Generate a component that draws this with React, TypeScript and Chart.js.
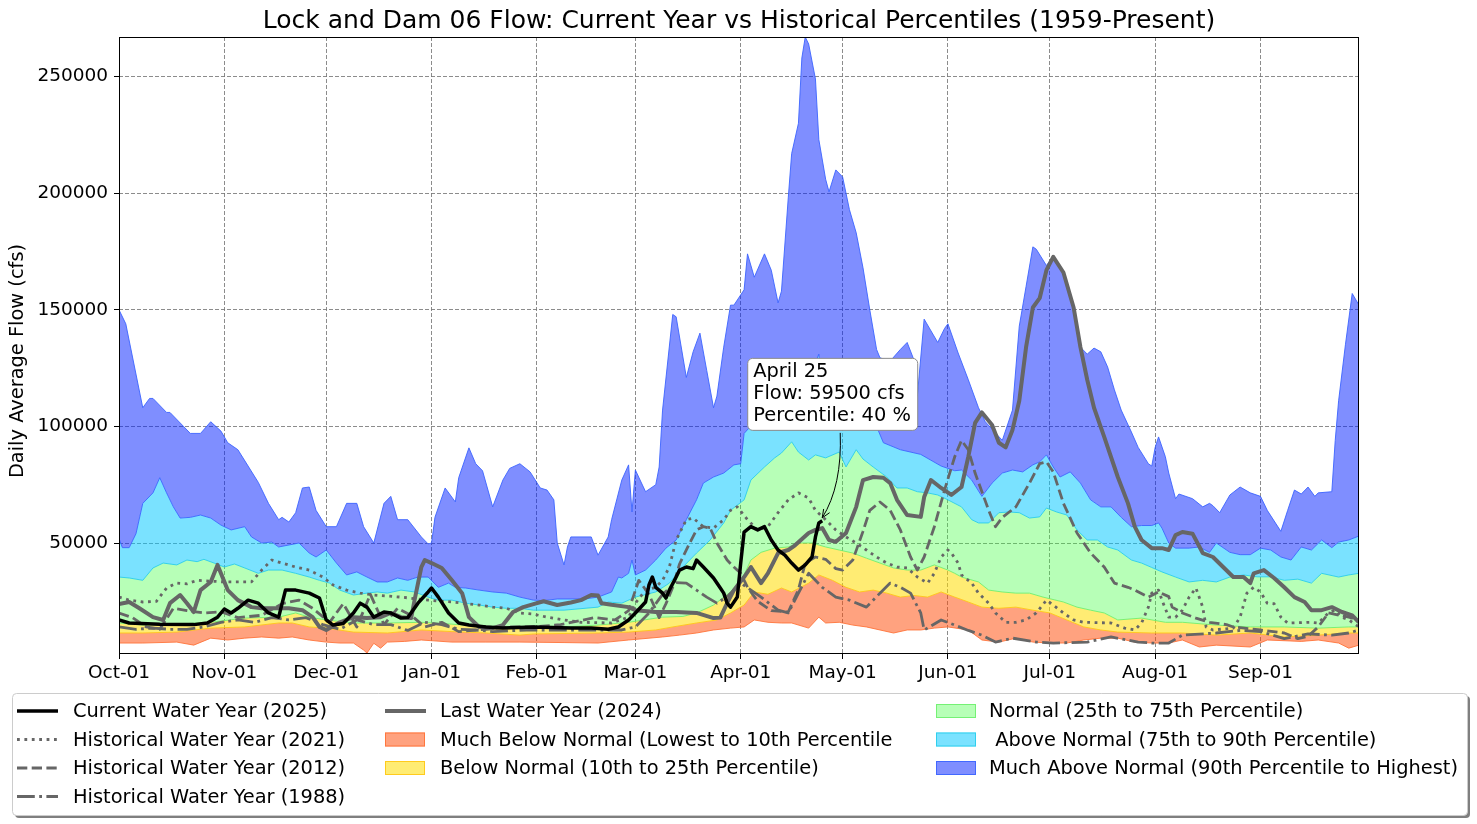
import React, { useEffect, useRef } from "react";
import { Chart, registerables } from "chart.js";

Chart.register(...registerables);

type Pt = [number, number];

const chartTitle = "Lock and Dam 06 Flow: Current Year vs Historical Percentiles (1959-Present)";
const yAxisTitle = "Daily Average Flow (cfs)";

// x = day of water year (Oct-01 = 0)
const monthTickDays = [0, 31, 61, 92, 123, 152, 183, 213, 244, 274, 305, 336];
const monthTickLabels = ["Oct-01", "Nov-01", "Dec-01", "Jan-01", "Feb-01", "Mar-01", "Apr-01", "May-01", "Jun-01", "Jul-01", "Aug-01", "Sep-01"];
const yTickValues = [50000, 100000, 150000, 200000, 250000];

const minFlow: Pt[] = [[0,7100],[7,7100],[17,7500],[22,6200],[27,9200],[32,8400],[37,9200],[42,9700],[47,9200],[51,9700],[56,8400],[61,7500],[65,7100],[69,7100],[72,4100],[73,2800],[75,7000],[77,4900],[79,7500],[84,7800],[89,8400],[98,7500],[108,7500],[118,7500],[131,7300],[141,7100],[150,8400],[160,9700],[165,10500],[170,11400],[175,12700],[180,13500],[184,14000],[187,17000],[191,16000],[195,15700],[198,15700],[203,13500],[206,18200],[208,15700],[212,16000],[216,14800],[220,14000],[224,12700],[228,11400],[232,12700],[236,12700],[240,13500],[244,14000],[250,12700],[254,8400],[259,7500],[264,9200],[269,7500],[274,7100],[279,7100],[284,8400],[289,9200],[294,9200],[299,7500],[304,7100],[309,7100],[313,8400],[318,5400],[323,6200],[333,5400],[338,8400],[348,7800],[353,8400],[359,7100],[362,4900],[365,6200]];

const p10Flow: Pt[] = [[0,11400],[7,11400],[17,11800],[27,13500],[37,14000],[47,15700],[51,15700],[56,14000],[61,13500],[69,11800],[79,11400],[89,12700],[98,12000],[108,11400],[118,10500],[122,11000],[141,11400],[150,11800],[158,12700],[163,14000],[170,15700],[176,17000],[180,20000],[184,23400],[187,29000],[191,28000],[195,30700],[198,29000],[203,32800],[206,36300],[210,34000],[214,31000],[218,29000],[222,29800],[226,28500],[230,26800],[234,27500],[238,26800],[242,29000],[246,26800],[250,24700],[254,22500],[259,22000],[264,22500],[269,21200],[274,20000],[279,17000],[284,14000],[289,12700],[294,11800],[304,11400],[313,11400],[323,10500],[333,11400],[343,9700],[353,10500],[362,11400],[365,11400]];

const p25Flow: Pt[] = [[0,15700],[7,14800],[17,15200],[27,16000],[37,17800],[47,18200],[52,20000],[56,18200],[61,17000],[69,15700],[79,15700],[89,16000],[98,15200],[108,14000],[122,14000],[131,14000],[141,14800],[150,16000],[160,18200],[166,18500],[170,20000],[175,23400],[180,29000],[183,33300],[186,42700],[189,46000],[193,47800],[197,48300],[200,50000],[204,50000],[208,48300],[212,47000],[216,45700],[220,43500],[224,41400],[228,39300],[232,38400],[236,38400],[240,40600],[244,38400],[246,37000],[248,35400],[253,33300],[256,29800],[260,29000],[264,28500],[268,28500],[272,26800],[278,24700],[282,22500],[286,21200],[290,20000],[294,17000],[301,17800],[308,16000],[313,16000],[323,14800],[333,14000],[343,14000],[353,13500],[362,14000],[365,14000]];

const p75Flow: Pt[] = [[0,35400],[3,35000],[7,34000],[10,39300],[13,41400],[17,40600],[20,42700],[23,42000],[25,43000],[28,41400],[31,39700],[34,41000],[37,39300],[41,37000],[44,38400],[48,38400],[52,37000],[56,35400],[59,34000],[62,32800],[65,29800],[69,27700],[73,28500],[76,29000],[79,28500],[83,29800],[87,29000],[91,26800],[94,25500],[98,25500],[102,24200],[106,23400],[110,22500],[114,22000],[118,22000],[122,21200],[131,21200],[141,22500],[144,24700],[148,24200],[152,26800],[158,29000],[162,32800],[166,39700],[170,45700],[174,51300],[178,58600],[180,64000],[184,68500],[186,77000],[190,82600],[193,86500],[195,88600],[198,93400],[200,89000],[203,85600],[205,87800],[208,86500],[212,89000],[214,82600],[217,90000],[219,86000],[222,82600],[226,78300],[229,73600],[232,73600],[235,72000],[238,71500],[241,70600],[244,68500],[248,65500],[251,60000],[253,58600],[256,58600],[259,63000],[262,63300],[265,63000],[268,60700],[271,61200],[273,65000],[276,63300],[279,62000],[282,55600],[285,51300],[288,51300],[291,48300],[294,47000],[298,42700],[301,41400],[304,39500],[307,37600],[311,35400],[315,33300],[319,34000],[323,33300],[327,35400],[331,36300],[335,35500],[339,35500],[343,34000],[347,34500],[351,32800],[354,37000],[359,35400],[362,36300],[365,37000]];

const p90Flow: Pt[] = [[0,52000],[1,48000],[3,48000],[5,54000],[7,67000],[10,71500],[12,78000],[14,71500],[16,65500],[18,60700],[21,61000],[24,62000],[27,60700],[30,57700],[33,55600],[37,57000],[39,52600],[42,50000],[45,50400],[47,48300],[53,50000],[56,45700],[58,44000],[61,47000],[64,41400],[67,36300],[70,37600],[73,35400],[76,33300],[79,33300],[82,35000],[85,34000],[88,35400],[91,35400],[94,31000],[97,32800],[99,31000],[102,30700],[106,29800],[110,29000],[114,28500],[118,26800],[122,25500],[125,25300],[129,26000],[137,26000],[141,26800],[145,29000],[147,35400],[148,35000],[150,37000],[151,42700],[152,36300],[155,38400],[158,42700],[161,47800],[164,51300],[167,60000],[170,68500],[172,75700],[175,78300],[178,80000],[181,83500],[183,84000],[184,97000],[189,105000],[193,110000],[199,115000],[203,120000],[206,131000],[207,118000],[212,112000],[218,105000],[223,100000],[225,93000],[230,90000],[236,88000],[242,83000],[246,81000],[248,81300],[251,77000],[254,70000],[257,75700],[260,80000],[263,81300],[266,80500],[269,83500],[271,84800],[273,87800],[275,82600],[277,78300],[280,80500],[283,75700],[286,68500],[289,65500],[292,65500],[295,61000],[298,57000],[301,57500],[304,57500],[306,58600],[307,56400],[309,50000],[311,47800],[315,47800],[318,48300],[321,46000],[323,50000],[327,46000],[330,45000],[333,45000],[336,47800],[339,47000],[342,44000],[345,42700],[348,48300],[351,47000],[354,51300],[357,48000],[359,50400],[362,51300],[365,53000]];

const maxFlow: Pt[] = [[0,150000],[2,144000],[7,108000],[9,112000],[10,112000],[14,106000],[15,106000],[21,97000],[24,97000],[27,102000],[30,98000],[32,93000],[35,90000],[38,83000],[41,76000],[44,67000],[47,60000],[48,61000],[50,59000],[52,63000],[54,73600],[56,74000],[58,64000],[61,57000],[64,57000],[67,67000],[70,67000],[72,57000],[75,50000],[78,67000],[80,70000],[82,60000],[85,60000],[89,52600],[91,49600],[92,50000],[93,61000],[96,73600],[99,67600],[100,78000],[103,90800],[105,84000],[107,81000],[110,65500],[113,77000],[115,82000],[118,84000],[121,80500],[124,73600],[126,72700],[128,68500],[129,50000],[131,40600],[132,48300],[133,52600],[139,52600],[141,44800],[144,52600],[145,60000],[148,77000],[150,83500],[151,63300],[152,81300],[155,72000],[158,75000],[159,82600],[160,107000],[163,148000],[164,147000],[167,121000],[169,132000],[171,140000],[173,124000],[175,108000],[176,113000],[178,134000],[180,152000],[181,152000],[184,158600],[185,174000],[187,164000],[190,174000],[192,167000],[194,153000],[195,158000],[197,198000],[198,217000],[200,230000],[201,258000],[202,267000],[203,264000],[205,249000],[206,223000],[208,206000],[209,200600],[211,210000],[213,207000],[215,193000],[217,183000],[219,168000],[221,150000],[223,133000],[224,129400],[227,128000],[230,133000],[232,136000],[234,128500],[235,113000],[237,146000],[241,136000],[243,142000],[244,144000],[247,131500],[250,120000],[253,108000],[255,102000],[260,94000],[263,107000],[265,143000],[267,160000],[269,177000],[270,176000],[273,169000],[275,173000],[278,166000],[281,151000],[283,134000],[285,131000],[287,133600],[289,132000],[291,125500],[293,115700],[295,107000],[298,97600],[300,91000],[303,84000],[304,83000],[305,91000],[306,95500],[308,87000],[309,80000],[311,69000],[312,71000],[316,69000],[319,65500],[321,67000],[322,66000],[324,63000],[327,70600],[330,74000],[333,71500],[336,70000],[338,64000],[342,55000],[344,64000],[346,72700],[348,71000],[350,74000],[352,70000],[353,71500],[357,72000],[358,94000],[359,111000],[361,135000],[363,157000],[365,152000]];

const current2025: Pt[] = [[0,17000],[3,15700],[12,15200],[22,15000],[26,15700],[29,18200],[31,21700],[33,20000],[35,22000],[38,25500],[41,24200],[44,20000],[47,18200],[49,29800],[52,29800],[56,28500],[59,26400],[61,17000],[63,14800],[66,15500],[69,20000],[71,24200],[73,22500],[75,18200],[78,20400],[80,20000],[83,17800],[85,18000],[88,24200],[91,29000],[92,30700],[94,26800],[97,20000],[100,15700],[103,14800],[108,14000],[113,13500],[122,14000],[133,13500],[139,13500],[144,13000],[147,14000],[150,17000],[152,20000],[155,24700],[156,32000],[157,35400],[158,31000],[160,28500],[161,26400],[162,29800],[164,35400],[165,38400],[167,39700],[169,39000],[170,42700],[172,39700],[175,35000],[177,30700],[178,28500],[179,24200],[180,22500],[182,26800],[183,41400],[184,54700],[186,57000],[188,55600],[190,57000],[192,51300],[194,47000],[196,44800],[198,41400],[200,38400],[202,40600],[204,44000],[205,52600],[206,58600],[207,59500]];

const last2024: Pt[] = [[0,23800],[3,24700],[6,22000],[10,18200],[13,17000],[15,24200],[18,27700],[20,24200],[22,20400],[24,29800],[27,33300],[29,40600],[30,37000],[32,29800],[35,25500],[39,22500],[42,22000],[50,22000],[54,21200],[57,18200],[59,14000],[61,12700],[65,16000],[69,18200],[73,17800],[77,18200],[80,20000],[83,18200],[86,17800],[87,25500],[89,39700],[90,42700],[92,41400],[95,39300],[98,34000],[101,28500],[103,18200],[106,14000],[110,13500],[113,14800],[116,20400],[119,22500],[122,23800],[125,25000],[129,23400],[133,24500],[136,25500],[139,27700],[141,27500],[142,24200],[145,23500],[150,22500],[152,21200],[158,20400],[164,20400],[170,20000],[175,17800],[177,18000],[179,24200],[181,29800],[184,35400],[186,39700],[189,32800],[191,37000],[194,45700],[197,47000],[199,49000],[203,54300],[205,55600],[207,56400],[209,51300],[211,50500],[214,54300],[217,65500],[219,77000],[222,78300],[225,78000],[227,75700],[229,68500],[232,62000],[236,61200],[237,69700],[239,77000],[242,73600],[245,70600],[248,74000],[250,87000],[252,101500],[254,106000],[257,100600],[259,93000],[261,91000],[263,98500],[265,111000],[267,134000],[269,151000],[271,155000],[273,167000],[275,172700],[278,166000],[281,151000],[283,134000],[285,120000],[287,108000],[290,95500],[294,78300],[297,67000],[299,57000],[301,51300],[304,47800],[307,47800],[309,47000],[311,53400],[313,54700],[316,54000],[319,45700],[322,44000],[325,39700],[328,35400],[331,35400],[333,32800],[334,37000],[337,38400],[340,35000],[343,31000],[346,26800],[349,24700],[351,21200],[354,21200],[357,22500],[360,20400],[363,19000],[365,16000]];

const hist2021: Pt[] = [[0,26800],[3,25500],[7,24700],[11,25000],[14,30700],[17,32800],[20,32500],[23,34000],[31,33300],[39,33300],[42,38400],[45,42700],[48,41400],[52,39700],[56,38400],[60,35400],[63,32000],[67,29800],[71,28500],[75,27700],[83,26800],[91,25500],[98,24700],[106,23400],[110,22500],[114,22000],[118,20000],[122,19500],[126,18200],[131,17000],[136,16000],[145,15700],[150,18200],[152,24200],[155,29800],[158,31000],[160,34000],[162,39700],[164,51300],[167,60000],[169,60700],[172,57000],[175,56400],[178,60000],[180,64000],[182,65500],[185,60000],[188,55600],[191,57000],[194,63000],[197,68500],[200,71500],[203,69300],[205,64000],[208,60000],[211,55600],[214,52600],[217,50000],[220,47000],[223,44000],[226,41400],[229,39700],[232,39300],[235,35400],[238,32800],[240,37000],[242,44000],[244,47000],[245,45700],[247,41400],[248,36300],[251,32800],[253,28500],[256,24200],[258,20000],[261,16000],[264,16000],[267,17000],[270,20000],[273,25500],[275,23400],[278,20000],[281,17000],[284,16000],[292,15700],[296,13500],[299,12700],[301,15700],[303,22500],[304,28500],[306,29800],[307,25500],[309,18200],[311,18200],[313,21200],[315,26800],[317,30700],[319,22500],[320,14000],[322,12700],[328,13500],[330,18200],[332,28500],[334,31000],[336,29000],[338,24200],[340,24000],[342,18200],[344,15700],[351,16000],[353,15700],[356,20000],[358,21200],[360,18200],[362,17000],[365,14000]];

const hist2012: Pt[] = [[0,20000],[4,18000],[8,14000],[12,13000],[16,22000],[20,21000],[25,20000],[30,20500],[35,18000],[42,19000],[48,24000],[53,25500],[57,22000],[62,16000],[66,24000],[70,14000],[74,28000],[78,15000],[82,22000],[86,19000],[90,14000],[95,16000],[100,12000],[108,13000],[115,14000],[122,14000],[130,15000],[140,18000],[146,17000],[150,21000],[153,34000],[156,28000],[159,18000],[161,24000],[163,31000],[165,41000],[168,50000],[170,55600],[172,57000],[174,56400],[176,50000],[179,42700],[181,39700],[183,37000],[185,31000],[188,25000],[192,21000],[197,20400],[200,30000],[202,41400],[205,44000],[208,43000],[211,39000],[213,38400],[216,42700],[219,55000],[221,64000],[224,67600],[227,64000],[230,55600],[233,44000],[235,38400],[237,44000],[240,57000],[243,72700],[246,87000],[248,94000],[250,90000],[252,80000],[256,64000],[258,57000],[260,61000],[264,65500],[268,75700],[271,84000],[273,84800],[275,80500],[278,67000],[282,54300],[286,45700],[290,39700],[293,32800],[297,31000],[299,29800],[303,26800],[306,29000],[309,27000],[310,22500],[313,20000],[317,17800],[321,16000],[326,15000],[328,14000],[336,12700],[343,11400],[347,9000],[350,10000],[353,14000],[356,20000],[362,18200],[365,17000]];

const hist1988: Pt[] = [[0,14000],[5,13000],[10,13500],[15,13000],[20,13000],[25,14000],[30,16000],[35,17000],[40,16000],[45,18000],[50,17000],[55,18000],[60,15000],[65,13000],[70,17000],[75,15000],[80,15000],[85,12500],[90,16000],[95,15000],[100,13000],[105,12700],[110,12000],[120,12700],[130,12700],[140,12700],[148,12700],[152,14000],[156,20000],[160,28000],[164,33000],[167,32800],[170,29800],[173,26800],[176,24200],[179,27000],[183,32800],[189,26800],[194,21200],[197,20000],[200,28500],[203,37000],[207,31000],[211,26800],[215,25500],[220,22500],[224,28500],[227,32800],[230,31000],[233,28500],[236,20000],[237,12700],[242,17000],[246,14800],[250,12500],[254,10500],[258,7500],[263,9200],[270,7500],[275,7100],[285,7500],[292,9700],[300,7500],[304,7100],[309,7100],[313,10500],[323,11400],[330,12500],[336,12000],[343,9000],[350,11000],[357,10500],[362,11400],[365,12700]];

const currentDateLabel = "April 25";
const currentPercentile = 40;

const FONT = '"DejaVu Sans", "Liberation Sans", sans-serif';
const GRAY = "#666666";
const DOT = [2.8, 4.6];
const DASH = [10.3, 4.4];
const DASHDOT = [17.8, 4.4, 2.8, 4.4];

const bands = [
  { label: "Much Below Normal (Lowest to 10th Percentile", fill: "rgba(255,69,0,0.5)", edge: "rgba(255,110,50,0.85)" },
  { label: "Below Normal (10th to 25th Percentile)", fill: "rgba(255,221,0,0.55)", edge: "rgba(255,200,20,0.9)" },
  { label: "Normal (25th to 75th Percentile)", fill: "rgba(60,255,60,0.37)", edge: "rgba(110,240,110,0.9)" },
  { label: " Above Normal (75th to 90th Percentile)", fill: "rgba(0,200,255,0.52)", edge: "rgba(40,205,235,0.9)" },
  { label: "Much Above Normal (90th Percentile to Highest)", fill: "rgba(0,30,255,0.5)", edge: "rgba(60,100,255,0.9)" },
];

const toXY = (arr: Pt[]) => arr.map(([x, y]) => ({ x, y }));

function drawHandle(ctx: CanvasRenderingContext2D, item: any, x: number, y: number) {
  if (item.kind === "line") {
    ctx.save();
    ctx.strokeStyle = item.color;
    ctx.lineWidth = item.width;
    ctx.setLineDash(item.dash);
    ctx.beginPath();
    ctx.moveTo(x, y);
    ctx.lineTo(x + 41, y);
    ctx.stroke();
    ctx.restore();
  } else {
    ctx.save();
    ctx.fillStyle = item.color;
    ctx.fillRect(x, y - 7, 40, 14);
    ctx.strokeStyle = item.edge;
    ctx.lineWidth = 1;
    ctx.strokeRect(x + 0.5, y - 6.5, 39, 13);
    ctx.restore();
  }
}

const overlayPlugin = {
  id: "overlay",
  afterDraw(chart: any) {
    const ctx: CanvasRenderingContext2D = chart.ctx;
    const { left, top, right, bottom } = chart.chartArea;
    const xs = chart.scales.x;
    const ys = chart.scales.y;
    ctx.save();

    // frame
    ctx.strokeStyle = "#000";
    ctx.lineWidth = 1;
    ctx.setLineDash([]);
    ctx.strokeRect(left + 0.5, top + 0.5, right - left - 1, bottom - top - 1);

    // title
    ctx.fillStyle = "#000";
    ctx.font = `25px ${FONT}`;
    ctx.textAlign = "center";
    ctx.textBaseline = "middle";
    ctx.fillText(chartTitle, (left + right) / 2, 21);

    // y title
    ctx.save();
    ctx.translate(18, 361);
    ctx.rotate(-Math.PI / 2);
    ctx.font = `19.4px ${FONT}`;
    ctx.fillText(yAxisTitle, 0, 0);
    ctx.restore();

    // annotation
    const last = current2025[current2025.length - 1];
    const px = xs.getPixelForValue(last[0]);
    const py = ys.getPixelForValue(last[1]);
    const ex = px, ey = py - 3;
    const sx = px + 18, sy = py - 88;
    const cx = px + 20, cy = py - 35;
    ctx.strokeStyle = "#000";
    ctx.lineWidth = 1;
    ctx.beginPath();
    ctx.moveTo(sx, sy);
    ctx.quadraticCurveTo(cx, cy, ex, ey);
    ctx.stroke();
    const ang = Math.atan2(ey - cy, ex - cx);
    const hl = 9, ha = 0.4;
    ctx.beginPath();
    ctx.moveTo(ex - hl * Math.cos(ang - ha), ey - hl * Math.sin(ang - ha));
    ctx.lineTo(ex, ey);
    ctx.lineTo(ex - hl * Math.cos(ang + ha), ey - hl * Math.sin(ang + ha));
    ctx.stroke();

    const bx = px - 75, by = py - 163, bw = 170, bh = 72;
    ctx.beginPath();
    ctx.roundRect(bx + 0.5, by + 0.5, bw, bh, 5);
    ctx.fillStyle = "#fff";
    ctx.fill();
    ctx.strokeStyle = "#8a8a8a";
    ctx.stroke();
    ctx.fillStyle = "#000";
    ctx.font = `19.4px ${FONT}`;
    ctx.textAlign = "left";
    ctx.textBaseline = "middle";
    ctx.fillText(currentDateLabel, bx + 6, by + 14);
    ctx.fillText(`Flow: ${last[1]} cfs`, bx + 6, by + 36);
    ctx.fillText(`Percentile: ${currentPercentile} %`, bx + 6, by + 58);

    // legend
    const lx = 12, ly = 693, lw = 1455, lh = 122;
    ctx.fillStyle = "rgba(0,0,0,0.5)";
    ctx.beginPath();
    ctx.roundRect(lx + 3, ly + 3, lw, lh, 4);
    ctx.fill();
    ctx.beginPath();
    ctx.roundRect(lx + 0.5, ly + 0.5, lw, lh, 4);
    ctx.fillStyle = "#fff";
    ctx.fill();
    ctx.strokeStyle = "#cccccc";
    ctx.lineWidth = 1;
    ctx.stroke();

    const items: any[] = chart.data.datasets
      .filter((d: any) => d.legendPos)
      .map((d: any) => ({
        label: d.label,
        pos: d.legendPos,
        kind: d.legendKind,
        color: d.legendKind === "line" ? d.borderColor : d.backgroundColor,
        edge: d.legendEdge,
        width: d.borderWidth,
        dash: d.borderDash || [],
      }));
    const handleX = [17, 385, 936];
    const textX = [73, 440, 989];
    const rowY = [711, 739.5, 768, 796.5];
    ctx.font = `19.4px ${FONT}`;
    ctx.textAlign = "left";
    ctx.textBaseline = "middle";
    for (const it of items) {
      const [col, row] = it.pos;
      drawHandle(ctx, it, handleX[col], rowY[row]);
      ctx.fillStyle = "#000";
      ctx.fillText(it.label, textX[col], rowY[row] + 1);
    }
    ctx.restore();
  },
};

export default function App() {
  const ref = useRef<HTMLCanvasElement>(null);
  useEffect(() => {
    const canvas = ref.current;
    if (!canvas) return;
    const bandSeries = [p10Flow, p25Flow, p75Flow, p90Flow, maxFlow];
    const bandLegendPos = [[1, 1], [1, 2], [2, 0], [2, 1], [2, 2]];
    const datasets: any[] = [
      { label: "Current Water Year (2025)", data: toXY(current2025), borderColor: "#000", borderWidth: 3.5, order: 0, legendPos: [0, 0], legendKind: "line" },
      { label: "Last Water Year (2024)", data: toXY(last2024), borderColor: GRAY, borderWidth: 4, order: 1, legendPos: [1, 0], legendKind: "line" },
      { label: "Historical Water Year (2021)", data: toXY(hist2021), borderColor: GRAY, borderWidth: 2.8, borderDash: DOT, order: 2, legendPos: [0, 1], legendKind: "line" },
      { label: "Historical Water Year (2012)", data: toXY(hist2012), borderColor: GRAY, borderWidth: 2.8, borderDash: DASH, order: 3, legendPos: [0, 2], legendKind: "line" },
      { label: "Historical Water Year (1988)", data: toXY(hist1988), borderColor: GRAY, borderWidth: 2.8, borderDash: DASHDOT, order: 4, legendPos: [0, 3], legendKind: "line" },
      { label: "min", data: toXY(minFlow), borderColor: bands[0].edge, borderWidth: 1, fill: false, order: 10 },
    ];
    bandSeries.forEach((s, i) => {
      datasets.push({
        label: bands[i].label,
        data: toXY(s),
        borderColor: i < 4 ? bands[i + 1].edge : bands[4].edge,
        borderWidth: 1,
        backgroundColor: bands[i].fill,
        fill: "-1",
        order: 10,
        legendPos: bandLegendPos[i],
        legendKind: "patch",
        legendEdge: bands[i].edge,
      });
    });

    const tickFont = { family: FONT, size: 18.5 };
    const gridColor = "rgba(120,120,120,0.85)";
    const chart = new Chart(canvas, {
      type: "line",
      data: { datasets },
      options: {
        animation: false,
        responsive: false,
        devicePixelRatio: 1,
        layout: { padding: { top: 37, right: 118, bottom: 140, left: 0 } },
        elements: { point: { radius: 0, hoverRadius: 0 }, line: { tension: 0, borderJoinStyle: "round" } },
        plugins: { legend: { display: false }, title: { display: false }, tooltip: { enabled: false } },
        events: [],
        scales: {
          x: {
            type: "linear",
            min: 0,
            max: 365,
            afterBuildTicks: (s: any) => { s.ticks = monthTickDays.map((v) => ({ value: v })); },
            afterFit: (s: any) => { s.height = 30; },
            ticks: {
              callback: (v: any) => { const i = monthTickDays.indexOf(Number(v)); return i >= 0 ? monthTickLabels[i] : ""; },
              font: tickFont, color: "#000", maxRotation: 0, minRotation: 0, autoSkip: false, padding: 3,
            },
            grid: { color: gridColor, lineWidth: 1, tickLength: 5, tickColor: "#000", tickWidth: 1, drawTicks: true },
            border: { display: false, dash: [4, 2] },
          },
          y: {
            type: "linear",
            min: 2400,
            max: 267000,
            afterBuildTicks: (s: any) => { s.ticks = yTickValues.map((v) => ({ value: v })); },
            afterFit: (s: any) => { s.width = 119; },
            ticks: { callback: (v: any) => String(v), font: tickFont, color: "#000", padding: 6 },
            grid: { color: gridColor, lineWidth: 1, tickLength: 5, tickColor: "#000", tickWidth: 1, drawTicks: true },
            border: { display: false, dash: [4, 2] },
          },
        },
      },
      plugins: [overlayPlugin],
    } as any);
    return () => chart.destroy();
  }, []);
  return (
    <div style={{ position: "fixed", left: 0, top: 0, width: 1477, height: 824, background: "#fff" }}>
      <canvas ref={ref} width={1477} height={824} style={{ display: "block" }} />
    </div>
  );
}
